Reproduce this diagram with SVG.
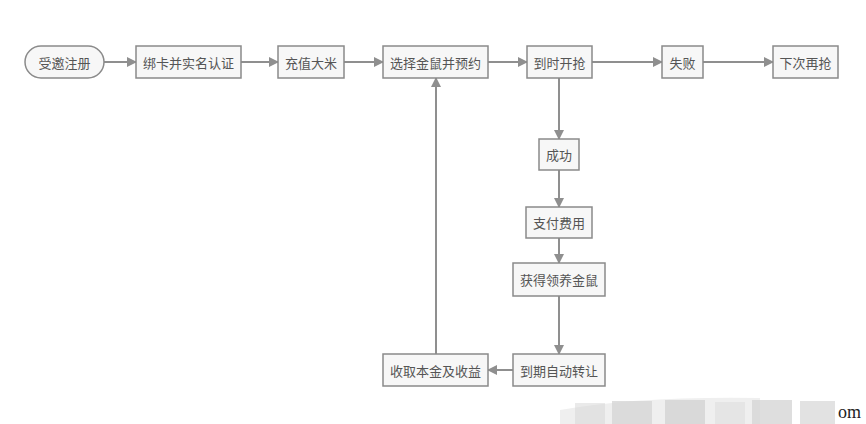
<svg xmlns="http://www.w3.org/2000/svg" width="866" height="424" viewBox="0 0 866 424">
<defs>
<style>
.n rect{fill:#f7f7f7;stroke:#8a8a8a;stroke-width:1.5}
.n text{font-family:"Noto Sans CJK SC","Noto Sans",sans-serif;font-size:13px;fill:#555;text-anchor:middle;dominant-baseline:central}
.c path{fill:none;stroke:#8f8f8f;stroke-width:2}
.wm{fill:#d6d6d6}
</style>
<marker id="ah" viewBox="0 0 10 10" refX="9" refY="5" markerWidth="5" markerHeight="5" orient="auto" markerUnits="strokeWidth">
<path d="M0,0 L10,5 L0,10 z" fill="#8f8f8f"/>
</marker>
</defs>
<rect width="866" height="424" fill="#fff"/>
<g class="c" marker-end="url(#ah)">
<path d="M104,62 H136"/>
<path d="M241,62 H278"/>
<path d="M344,62 H383"/>
<path d="M488,62 H527"/>
<path d="M592,62 H662"/>
<path d="M703,62 H773"/>
<path d="M559,78 V139"/>
<path d="M559,170 V207"/>
<path d="M559,238 V263"/>
<path d="M559,296 V354"/>
<path d="M513,370 H488"/>
<path d="M436,354 V78"/>
</g>
<g id="n1" class="n"><rect x="25" y="46" width="79" height="32" rx="16"/><text x="64.5" y="62">受邀注册</text></g>
<g id="n2" class="n"><rect x="136" y="46" width="105" height="32"/><text x="188.5" y="62">绑卡并实名认证</text></g>
<g id="n3" class="n"><rect x="278" y="46" width="66" height="32"/><text x="311" y="62">充值大米</text></g>
<g id="n4" class="n"><rect x="383" y="46" width="105" height="32"/><text x="435.5" y="62">选择金鼠并预约</text></g>
<g id="n5" class="n"><rect x="527" y="46" width="65" height="32"/><text x="559.5" y="62">到时开抢</text></g>
<g id="n6" class="n"><rect x="662" y="46" width="41" height="32"/><text x="682.5" y="62">失败</text></g>
<g id="n7" class="n"><rect x="773" y="46" width="65" height="32"/><text x="805.5" y="62">下次再抢</text></g>
<g id="n8" class="n"><rect x="539" y="139" width="40" height="31"/><text x="559" y="154.5">成功</text></g>
<g id="n9" class="n"><rect x="526" y="207" width="66" height="31"/><text x="559" y="222.5">支付费用</text></g>
<g id="n10" class="n"><rect x="513" y="263" width="92" height="33"/><text x="559" y="279.5">获得领养金鼠</text></g>
<g id="n11" class="n"><rect x="513" y="354" width="92" height="32"/><text x="559" y="370">到期自动转让</text></g>
<g id="n12" class="n"><rect x="383" y="354" width="105" height="32"/><text x="435.5" y="370">收取本金及收益</text></g>
<g id="watermark">
<path d="M560,410 Q640,396 760,398 L760,424 L560,424 Z" fill="#efefef"/>
<rect class="wm" x="575" y="403" width="30" height="21" opacity="0.5"/>
<rect class="wm" x="612" y="401" width="40" height="23" opacity="0.8"/>
<rect class="wm" x="665" y="400" width="40" height="24" opacity="0.9"/>
<rect class="wm" x="715" y="402" width="30" height="22" opacity="0.4"/>
<rect class="wm" x="752" y="400" width="40" height="24" opacity="0.8"/>
<rect class="wm" x="800" y="401" width="35" height="23" opacity="0.7"/>
<text x="838" y="418" font-family="Liberation Serif,serif" font-size="18" fill="#222">om</text>
</g>
</svg>
